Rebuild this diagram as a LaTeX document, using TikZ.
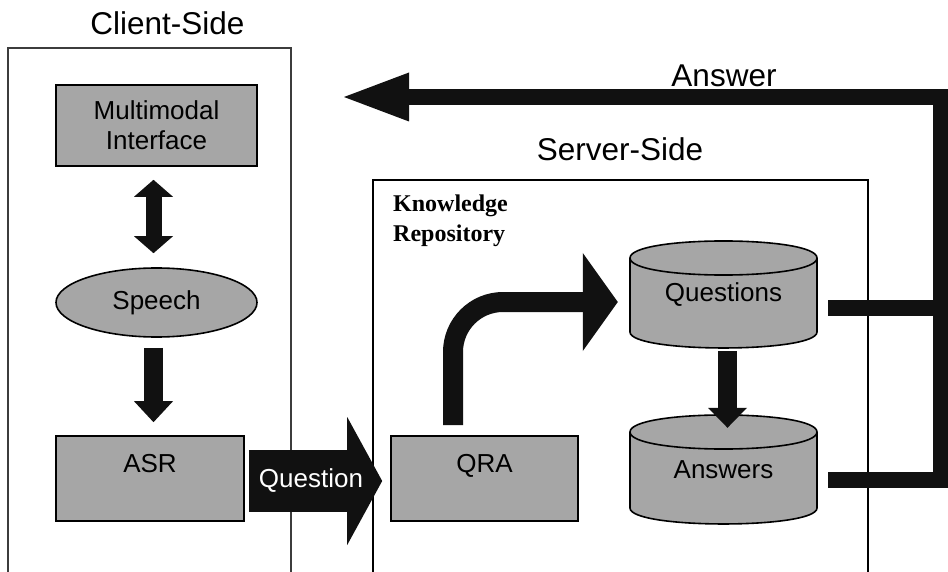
\documentclass[tikz,border=0pt]{standalone}
\usepackage{fontspec}
\newfontfamily\arial{Liberation Sans}
\newfontfamily\krfont{Liberation Serif}
\usetikzlibrary{arrows.meta,shapes.geometric}
\definecolor{boxgray}{RGB}{166,166,166}
\definecolor{ink}{RGB}{17,17,17}
\definecolor{framegray}{RGB}{60,60,60}
\begin{document}
\begin{tikzpicture}[x=1pt,y=-1pt,
  lbl/.style={font=\arial\fontsize{26}{30}\selectfont},
  heading/.style={font=\arial\fontsize{31.5}{36}\selectfont, inner sep=0, anchor=base},
  gbox/.style={draw=black, line width=1.6pt, fill=boxgray, lbl, inner sep=0},
  dbshape/.style={draw=black, line width=1.6pt, fill=boxgray},
  dbtext/.style={lbl, inner sep=0, minimum width=187pt, minimum height=107pt},
  fat/.style={draw=ink, line width=#1, line join=miter},
]
\useasboundingbox (0,0) rectangle (948,572);

% frames
\draw[framegray, line width=1.4pt] (8,572) -- (8,48) -- (291,48) -- (291,572);
\draw[black, line width=2pt] (373,572) -- (373,180) -- (868,180) -- (868,572);

% headings
\node[heading] (hclient) at (167.5,35) {Client-Side};
\node[heading] (hserver) at (620,161) {Server-Side};
\node[heading] (hanswer) at (724,87) {Answer};
\node[font=\krfont\bfseries\fontsize{24}{30}\selectfont, align=left, anchor=north west, inner sep=0] (kr) at (393,195) {Knowledge\\Repository};

% client side
\node[gbox, minimum width=201pt, minimum height=81pt, align=center] (mm) at (156.5,125.5) {Multimodal\\Interface};
\node[gbox, ellipse, minimum width=201pt, minimum height=69pt] (sp) at (156.5,302.5) {Speech};
\node[gbox, minimum width=188pt, text height=36pt, text depth=49pt] (asr) at (150,478.5) {ASR};

% server side
\node[gbox, minimum width=187pt, text height=36pt, text depth=49pt] (qra) at (484.5,478.5) {QRA};

% cylinders
\filldraw[dbshape] (630,258) -- (630,332) .. controls (630,353.3) and (817,353.3) .. (817,332) -- (817,258) .. controls (817,235.3) and (630,235.3) .. (630,258) -- cycle;
\draw[black, line width=1.6pt] (630,258) .. controls (630,280.7) and (817,280.7) .. (817,258);
\filldraw[dbshape] (630,432) -- (630,508) .. controls (630,529.3) and (817,529.3) .. (817,508) -- (817,432) .. controls (817,409.3) and (630,409.3) .. (630,432) -- cycle;
\draw[black, line width=1.6pt] (630,432) .. controls (630,454.7) and (817,454.7) .. (817,432);
\node[dbtext] (qdb) at (723.5,294.5) {Questions};
\node[dbtext] (adb) at (723.5,469.5) {Answers};

% connectors
\draw[fat=16pt, {Triangle[length=17pt,width=39pt,line width=0pt]}-{Triangle[length=17pt,width=39pt,line width=0pt]}]
  ([xshift=-3pt,yshift=-13pt]mm.south) -- ([xshift=-3pt,yshift=14pt]sp.north);
\draw[fat=19pt, -{Triangle[length=21pt,width=39pt,line width=0pt]}]
  ([xshift=-3pt,yshift=-10pt]sp.south) -- ([xshift=3.5pt,yshift=13pt]asr.north);
\draw[fat=62pt, -{Triangle[length=35pt,width=128pt,line width=0pt]}]
  ([xshift=4pt,yshift=-2.5pt]asr.east) -- ([xshift=-8pt,yshift=-2.5pt]qra.west);
\node[lbl, text=white, anchor=base, inner sep=0] (qlab) at (311,487) {Question};
\draw[fat=20pt, rounded corners=50pt, -{Triangle[length=35pt,width=98pt,line width=0pt]}]
  ([xshift=-31.5pt,yshift=10pt]qra.north) |- ([xshift=-12pt,yshift=-7.5pt]qdb.west);
\draw[fat=19pt, -{Triangle[length=20pt,width=39pt,line width=0pt]}]
  ([xshift=4pt,yshift=-3pt]qdb.south) -- ([xshift=4pt,yshift=-12pt]adb.north);

\coordinate (rc) at (940.5,97);
\coordinate (anstip) at (344,97);
\coordinate (qs) at ([xshift=11pt,yshift=-13pt]qdb.east);
\draw[fat=16pt] (qs) -- (qs -| rc);
\draw[fat=16pt, -{Triangle[length=65pt,width=49pt,line width=0pt]}]
  ([xshift=11pt,yshift=-10.5pt]adb.east) -| (rc) -- (anstip);
\end{tikzpicture}
\end{document}
